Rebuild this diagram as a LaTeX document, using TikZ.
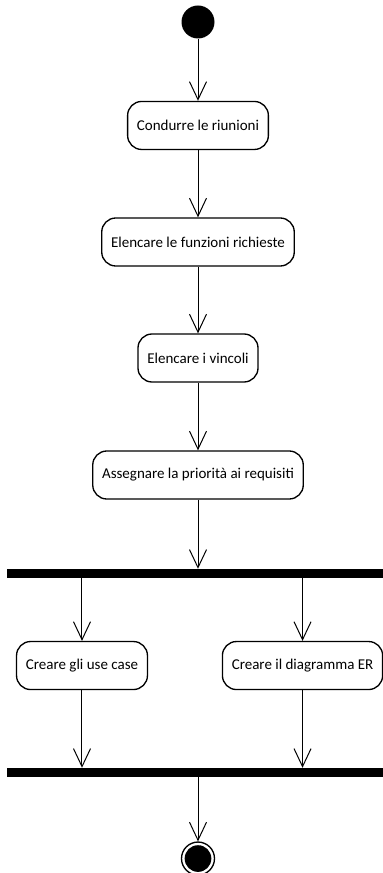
\documentclass[tikz,border=0pt]{standalone}
\usepackage{fontspec}
\setmainfont{Carlito}
\usetikzlibrary{shapes,arrows.meta,positioning}

\begin{document}
\begin{tikzpicture}[node distance=87pt, auto]
        % Define styles
        \tikzstyle{activity} = [rectangle, draw, line width=1pt, rounded corners=10.5pt, text centered, inner xsep=7pt, minimum height=36pt, font=\fontsize{11.25}{13.5}\selectfont]
        \tikzstyle{startnode} = [circle, fill=black, inner sep=0pt, minimum size=24.75pt]
        \tikzstyle{endnode} = [circle, draw, line width=1pt, inner sep=0pt, minimum size=24.75pt, path picture={\fill (path picture bounding box.center) circle (10pt);}]
        \tikzstyle{bar} = [rectangle, fill=black, inner sep=0pt, minimum width=285.75pt, minimum height=6.75pt]
        \tikzstyle{flow} = [line width=0.75pt, -{Straight Barb[length=13.5pt, width=12.75pt]}]

        \useasboundingbox (-148.5pt,16.5pt) rectangle (138pt,-638.25pt);

        % Activities
        \node [startnode] (start) {};
        \node [activity, below of=start, node distance=77.6pt] (riunioni) {Condurre le riunioni};
        \node [activity, below of=riunioni, node distance=87.4pt] (funzioni) {Elencare le funzioni richieste};
        \node [activity, below of=funzioni] (vincoli) {Elencare i vincoli};
        \node [activity, below of=vincoli, node distance=87.75pt] (priorita) {Assegnare la priorità ai requisiti};

        % Fork and join
        \node [bar, below of=priorita, node distance=73.9pt] (fork) {};
        \node [activity, below of=fork, node distance=69pt, xshift=-87pt] (usecase) {Creare gli use case};
        \node [activity, below of=fork, node distance=69pt, xshift=78.4pt] (er) {Creare il diagramma ER};
        \node [bar, below of=fork, node distance=149.25pt] (join) {};
        \node [endnode, below of=join, node distance=64.5pt] (end) {};

        % Arrows
        \draw [flow] (start) -- (riunioni);
        \draw [flow] (riunioni) -- (funzioni);
        \draw [flow] (funzioni) -- (vincoli);
        \draw [flow] (vincoli) -- (priorita);
        \draw [flow] (priorita) -- (fork);
        \draw [flow] (usecase |- fork.south) -- (usecase);
        \draw [flow] (er |- fork.south) -- (er);
        \draw [flow] (usecase) -- (usecase |- join.north);
        \draw [flow] (er) -- (er |- join.north);
        \draw [flow] (join) -- (end);
    \end{tikzpicture}
\end{document}
